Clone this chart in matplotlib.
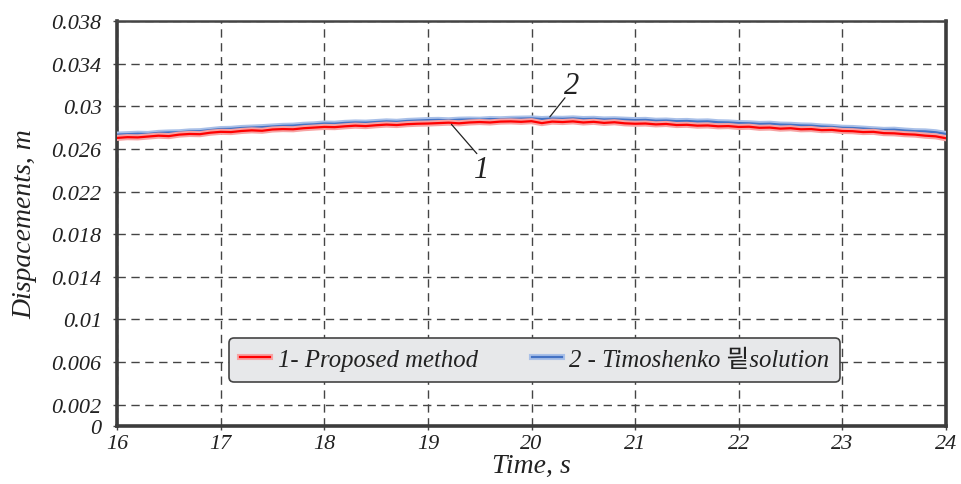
import numpy as np
import matplotlib
matplotlib.use("Agg")
import matplotlib.pyplot as plt
import matplotlib.patheffects as pe
import matplotlib.transforms as mtransforms

# ---------------- data ----------------
time_s = np.round(np.arange(16.0, 24.0001, 0.1), 1)

proposed = [
    0.02703, 0.02710, 0.02708, 0.02716, 0.02724, 0.02720, 0.02734, 0.02740, 0.02738, 0.02752,
    0.02760, 0.02758, 0.02768, 0.02774, 0.02770, 0.02782, 0.02786, 0.02784, 0.02794, 0.02800,
    0.02806, 0.02804, 0.02812, 0.02818, 0.02814, 0.02822, 0.02828, 0.02824, 0.02832, 0.02836,
    0.02838, 0.02842, 0.02846, 0.02840, 0.02848, 0.02852, 0.02848, 0.02856, 0.02858, 0.02854,
    0.02860, 0.02842, 0.02856, 0.02852, 0.02858, 0.02848, 0.02854, 0.02844, 0.02850, 0.02840,
    0.02836, 0.02838, 0.02830, 0.02834, 0.02824, 0.02826, 0.02818, 0.02820, 0.02812, 0.02814,
    0.02806, 0.02808, 0.02798, 0.02800, 0.02790, 0.02794, 0.02784, 0.02786, 0.02776, 0.02778,
    0.02768, 0.02766, 0.02758, 0.02760, 0.02748, 0.02746, 0.02738, 0.02734, 0.02724, 0.02718,
    0.02700,
]

timoshenko = [
    0.02734, 0.02738, 0.02742, 0.02740, 0.02750, 0.02754, 0.02756, 0.02764, 0.02766, 0.02776,
    0.02786, 0.02788, 0.02796, 0.02800, 0.02804, 0.02810, 0.02816, 0.02818, 0.02826, 0.02830,
    0.02838, 0.02836, 0.02844, 0.02848, 0.02846, 0.02852, 0.02858, 0.02854, 0.02862, 0.02866,
    0.02870, 0.02872, 0.02868, 0.02874, 0.02876, 0.02874, 0.02880, 0.02878, 0.02882, 0.02884,
    0.02886, 0.02880, 0.02884, 0.02882, 0.02886, 0.02880, 0.02882, 0.02876, 0.02878, 0.02874,
    0.02870, 0.02872, 0.02864, 0.02866, 0.02860, 0.02862, 0.02856, 0.02858, 0.02850, 0.02848,
    0.02842, 0.02840, 0.02834, 0.02836, 0.02828, 0.02826, 0.02820, 0.02818, 0.02810, 0.02806,
    0.02798, 0.02796, 0.02790, 0.02784, 0.02778, 0.02780, 0.02772, 0.02766, 0.02764, 0.02756,
    0.02740,
]

x_ticks = [16, 17, 18, 19, 20, 21, 22, 23, 24]
y_ticks = [0, 0.002, 0.006, 0.01, 0.014, 0.018, 0.022, 0.026, 0.03, 0.034, 0.038]
y_tick_labels = ["0", "0.002", "0.006", "0.01", "0.014", "0.018", "0.022",
                 "0.026", "0.03", "0.034", "0.038"]

series_labels = ["1- Proposed method", "2 - Timoshenko \ubbf5solution"]

# ---------------- figure ----------------
serif = "Liberation Serif"
text_color = "#222222"

fig = plt.figure(figsize=(9.61, 4.85), dpi=100)
ax = fig.add_axes([117 / 961, 58 / 485, 829 / 961, 405 / 485])

l2, = ax.plot(time_s, timoshenko, color="#4472c4", lw=1.6, solid_joinstyle="round",
              path_effects=[pe.Stroke(linewidth=4.4, foreground="#a9c0e8"), pe.Normal()],
              zorder=3)
l1, = ax.plot(time_s, proposed, color="#ff0000", lw=1.6, solid_joinstyle="round",
              path_effects=[pe.Stroke(linewidth=4.4, foreground="#f7a3a3"), pe.Normal()],
              zorder=4)

ax.set_xlim(16, 24)
ax.set_ylim(0, 0.038)
ax.set_xticks(x_ticks)
ax.set_xticklabels([str(v) for v in x_ticks])
ax.set_yticks(y_ticks)
ax.set_yticklabels(y_tick_labels)

for lab in ax.get_xticklabels() + ax.get_yticklabels():
    lab.set_fontfamily(serif)
    lab.set_fontstyle("italic")
    lab.set_fontsize(16)
    lab.set_color(text_color)

# shift the "0" label like in the reference
zero_lab = ax.get_yticklabels()[0]
zero_lab.set_transform(zero_lab.get_transform() +
                       mtransforms.ScaledTranslation(-9 / 100, 8 / 100, fig.dpi_scale_trans))

ax.tick_params(axis="both", direction="out", length=3, width=1, color="#444444")
ax.tick_params(axis="y", pad=8)
ax.tick_params(axis="x", pad=3)

ax.grid(True, which="major", linestyle=(0, (6, 4)), color="#444444", lw=1.0, zorder=1)

for side in ["left", "bottom", "right"]:
    ax.spines[side].set_linewidth(2.6)
    ax.spines[side].set_color("#3c3c3c")
ax.spines["top"].set_linewidth(1.8)
ax.spines["top"].set_color("#444444")

ax.set_xlabel("Time, s", fontfamily=serif, fontstyle="italic", fontsize=20,
              color=text_color, labelpad=0)
ax.set_ylabel("Dispacements, m", fontfamily=serif, fontstyle="italic", fontsize=20,
              color=text_color, labelpad=10)

# curve annotations
ax.annotate("", xy=(19.21, 0.02850), xytext=(19.49, 0.02536),
            arrowprops=dict(arrowstyle="-", color="#222222", lw=0.9), zorder=5)
ax.text(19.52, 0.0241, "1", fontfamily=serif, fontstyle="italic", fontsize=22,
        color=text_color, ha="center", va="center", zorder=5)
ax.annotate("", xy=(20.16, 0.02880), xytext=(20.34, 0.0310),
            arrowprops=dict(arrowstyle="-", color="#222222", lw=0.9), zorder=5)
ax.text(20.39, 0.03195, "2", fontfamily=serif, fontstyle="italic", fontsize=22,
        color=text_color, ha="center", va="center", zorder=5)

leg = ax.legend([l1, l2], series_labels, loc="center", bbox_to_anchor=(0.504, 0.163),
                ncol=2, frameon=True, fancybox=True, facecolor="#e7e8ea",
                edgecolor="#444444", framealpha=1, handlelength=1.2, handletextpad=0.3,
                columnspacing=2.2, borderpad=0.45,
                prop={"family": [serif, "Noto Sans CJK KR"], "style": "italic", "size": 17.8})
leg.get_frame().set_linewidth(1.2)
for t in leg.get_texts():
    t.set_color(text_color)
leg.set_zorder(6)

fig.savefig("out.png", dpi=100)
